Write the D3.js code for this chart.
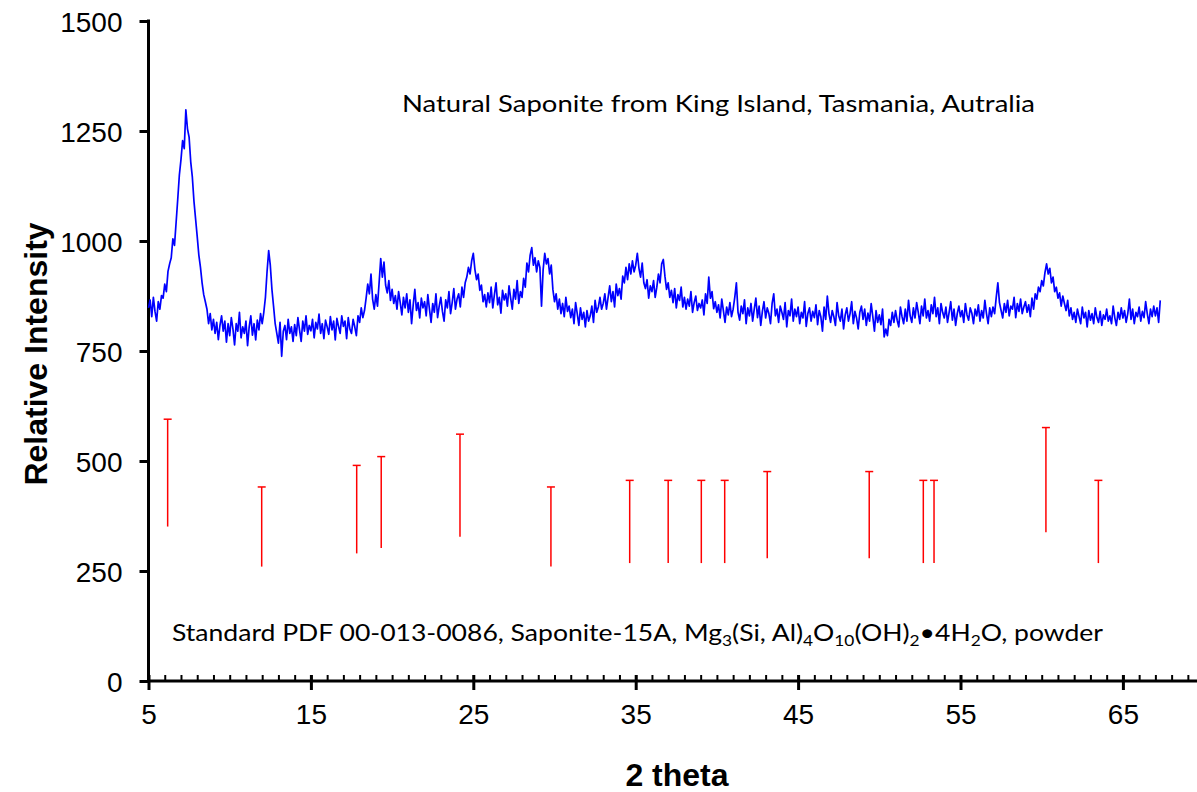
<!DOCTYPE html>
<html>
<head>
<meta charset="utf-8">
<script src="https://cdn.jsdelivr.net/npm/d3@7"></script>
<style>
  html, body { margin: 0; padding: 0; background: #fff; }
  svg { display: block; }
</style>
</head>
<body>
<svg id="chart" width="1197" height="792"></svg>
<script>
// ---------------- DATA ----------------
const scanStart = 5.0;          // 2-theta of first reading
const scanStep = 0.1;           // 2-theta step between readings
// Measured XRD intensity, one row per degree (5.0 .. 67.3)
const intensity = [
  848, 866, 828, 872, 840, 818, 862, 845, 876, 870,
  902, 885, 931, 948, 962, 1005, 990, 1042, 1095, 1150,
  1185, 1228, 1210, 1298, 1255, 1236, 1180, 1145, 1090, 1050,
  1010, 968, 940, 905, 878, 862, 845, 812, 835, 798,
  822, 790, 815, 776, 808, 830, 795, 818, 770, 812,
  785, 826, 800, 764, 812, 795, 838, 780, 805, 790,
  818, 762, 805, 830, 786, 812, 775, 820, 798, 835,
  812, 838, 872, 930, 978, 945, 890, 852, 812, 790,
  768, 815, 738, 795, 808, 776, 822, 790, 805, 772,
  810, 785, 826, 798, 772, 818, 795, 830, 788, 808,
  796, 822, 780, 815, 800, 834, 790, 812, 778, 820,
  805, 788, 828, 798, 818, 775, 824, 806, 790, 830,
  806, 818, 778, 826, 800, 790, 822, 805, 785, 830,
  815, 848, 826, 842, 870, 902, 880, 925, 868, 845,
  878, 852, 905, 960, 918, 952, 900, 882, 910, 865,
  890, 858, 876, 845, 885, 860, 832, 872, 848, 880,
  838, 866, 812, 855, 890, 842, 860, 825, 870, 848,
  862, 830, 878, 845, 815, 858, 838, 880, 826, 852,
  872, 840, 818, 866, 848, 885, 835, 860, 892, 845,
  868, 880, 850, 895, 872, 905, 918, 940, 925, 955,
  972, 935, 912, 925, 888, 900, 862, 878, 850, 882,
  860, 895, 848, 878, 905, 855, 872, 836, 888, 866,
  880, 852, 898, 870, 845, 890, 868, 910, 858, 885,
  872, 915, 895, 950, 930, 968, 985, 945, 962, 930,
  955, 940, 852, 935, 972, 948, 960, 925, 945, 890,
  862, 880, 845, 868, 835, 858, 828, 872, 840, 852,
  826, 845, 812, 860, 835, 808, 848, 822, 838, 805,
  842, 818, 830, 852, 815, 865, 838, 850, 872, 845,
  858, 880, 845, 872, 898, 862, 885, 850, 902, 876,
  892, 868, 920, 905, 940, 912, 948, 925, 955, 930,
  945, 972, 938, 918, 950, 905, 892, 912, 870, 898,
  885, 910, 872, 895, 925, 905, 948, 958, 920, 890,
  905, 872, 888, 860, 892, 848, 878, 865, 895, 850,
  872, 845, 868, 852, 885, 838, 860, 875, 842, 858,
  848, 866, 832, 880, 858, 918, 870, 885, 846, 862,
  838, 855, 825, 868, 842, 815, 850, 832, 860, 828,
  845, 872, 905, 838, 820, 852, 835, 866, 812, 848,
  830, 858, 818, 845, 870, 826, 852, 808, 840, 862,
  825, 848, 835, 812, 858, 880, 830, 845, 815, 852,
  838, 822, 860, 805, 842, 830, 868, 818, 845, 828,
  850, 812, 838, 825, 862, 806, 835, 848, 818, 840,
  826, 855, 810, 842, 828, 795, 850, 822, 875, 835,
  815, 842, 828, 808, 860, 830, 818, 845, 800, 832,
  848, 818, 835, 862, 812, 840, 825, 800, 838, 852,
  822, 845, 808, 836, 818, 858, 828, 795, 842, 815,
  832, 810, 845, 782, 800, 785, 822, 808, 838, 815,
  842, 820, 805, 850, 828, 812, 845, 818, 865, 830,
  815, 848, 825, 860, 838, 812, 852, 830, 868, 825,
  842, 818, 855, 835, 872, 828, 848, 812, 858, 838,
  825, 850, 815, 838, 862, 820, 845, 808, 835, 852,
  828, 842, 815, 858, 832, 820, 848, 836, 812, 845,
  830, 855, 818, 842, 825, 865, 835, 812, 848, 828,
  850, 835, 872, 905, 860, 842, 825, 858, 838, 865,
  830, 852, 845, 872, 826, 858, 840, 868, 835, 850,
  862, 838, 855, 828, 870, 845, 880, 868, 895, 885,
  910, 898, 928, 948, 925, 938, 905, 918, 885, 895,
  870, 882, 852, 875, 858, 842, 865, 830, 848, 822,
  838, 815, 845, 828, 812, 850, 825, 838, 805, 842,
  820, 835, 812, 848, 826, 815, 840, 808, 832, 822,
  845, 818, 830, 812, 852, 826, 808, 838, 822, 848,
  825, 842, 815, 835, 868, 822, 845, 812, 838, 828,
  850, 818, 840, 826, 862, 835, 812, 845, 828, 852,
  830, 848, 815, 865
];

// Standard PDF 00-013-0086 reference lines
const stdPositions = [6.18, 11.97, 17.82, 19.33, 24.18, 29.78, 34.63, 37.0, 39.04, 40.48, 43.1, 49.38, 52.71, 53.37, 60.26, 63.49];
const stdTop       = [595, 441, 490, 510, 561, 441, 456, 456, 456, 456, 476, 476, 456, 456, 576, 456];
const stdBottom    = [351, 260, 290, 302, 328, 260, 268, 268, 268, 268, 279, 279, 268, 268, 338, 268];

const xTicks = [5, 15, 25, 35, 45, 55, 65];
const xMinorTicks = d3.range(5, 70, 1);
const yTicks = [0, 250, 500, 750, 1000, 1250, 1500];

const xTitle = "2 theta";
const yTitle = "Relative Intensity";
const sampleNote = "Natural Saponite from King Island, Tasmania, Autralia";

// ---------------- CHART ----------------
const svg = d3.select("#chart");
const x = d3.scaleLinear().domain([5, 70]).range([148.5, 1204.1]);
const y = d3.scaleLinear().domain([0, 1500]).range([681, 21]);

const pattern = intensity.map((v, i) => ({ t: scanStart + i * scanStep, v }));

// axis lines
const axisG = svg.append("g");
axisG.append("line").attr("x1", x(5)).attr("x2", 1197).attr("y1", y(0)).attr("y2", y(0))
  .attr("stroke", "#000").attr("stroke-width", 3);
axisG.append("line").attr("x1", x(5)).attr("x2", x(5)).attr("y1", y(1500) - 1.5).attr("y2", y(0) + 1.5)
  .attr("stroke", "#000").attr("stroke-width", 3);

// y ticks + labels
const yAxis = d3.axisLeft(y).tickValues(yTicks).tickSize(9).tickPadding(17).tickFormat(d3.format("d"));
const yg = svg.append("g").attr("transform", `translate(${x(5)},0)`).call(yAxis);
yg.select(".domain").remove();
yg.selectAll(".tick line").attr("stroke", "#000").attr("stroke-width", 3);
yg.selectAll(".tick text").attr("font-family", "Liberation Sans, Arial, sans-serif")
  .attr("font-size", 28).attr("fill", "#000").attr("dy", "0.36em");

// x minor ticks (inside)
const xMinor = d3.axisTop(x).tickValues(xMinorTicks).tickSize(6).tickFormat("");
const xmg = svg.append("g").attr("transform", `translate(0,${y(0)})`).call(xMinor);
xmg.select(".domain").remove();
xmg.selectAll(".tick line").attr("stroke", "#000").attr("stroke-width", 2);

// x major ticks (crossing) + labels
const xAxis = d3.axisBottom(x).tickValues(xTicks).tickSize(9).tickPadding(14).tickFormat(d3.format("d"));
const xg = svg.append("g").attr("transform", `translate(0,${y(0)})`).call(xAxis);
xg.select(".domain").remove();
xg.selectAll(".tick line").attr("stroke", "#000").attr("stroke-width", 3).attr("y1", -6);
xg.selectAll(".tick text").attr("font-family", "Liberation Sans, Arial, sans-serif")
  .attr("font-size", 28).attr("fill", "#000");

// XRD pattern
const line = d3.line().x(d => x(d.t)).y(d => y(d.v));
svg.append("path").datum(pattern).attr("d", line)
  .attr("fill", "none").attr("stroke", "#0000ff").attr("stroke-width", 1.7)
  .attr("stroke-linejoin", "round");

// standard sticks
const sticks = svg.append("g").selectAll("g").data(stdPositions.map((p, i) => ({ p, top: stdTop[i], bot: stdBottom[i] })))
  .join("g");
sticks.append("line").attr("x1", d => x(d.p)).attr("x2", d => x(d.p))
  .attr("y1", d => y(d.top)).attr("y2", d => y(d.bot))
  .attr("stroke", "#ff0000").attr("stroke-width", 1.5);
sticks.append("line").attr("x1", d => x(d.p) - 4).attr("x2", d => x(d.p) + 4)
  .attr("y1", d => y(d.top)).attr("y2", d => y(d.top))
  .attr("stroke", "#ff0000").attr("stroke-width", 1.5);

// titles
svg.append("text").attr("x", 677).attr("y", 786).attr("text-anchor", "middle")
  .attr("font-family", "Liberation Sans, Arial, sans-serif").attr("font-weight", "bold")
  .attr("font-size", 32).text(xTitle);
svg.append("text").attr("transform", "translate(47,354) rotate(-90)").attr("text-anchor", "middle")
  .attr("font-family", "Liberation Sans, Arial, sans-serif").attr("font-weight", "bold")
  .attr("font-size", 32).text(yTitle);

// annotations
const noteFont = "Lato, 'Open Sans', sans-serif";
svg.append("text").attr("x", 402).attr("y", 112).attr("font-family", noteFont)
  .attr("font-size", 23).attr("textLength", 633).attr("lengthAdjust", "spacingAndGlyphs")
  .text(sampleNote);

const std = svg.append("text").attr("x", 172).attr("y", 641).attr("font-family", noteFont)
  .attr("font-size", 23).attr("textLength", 931).attr("lengthAdjust", "spacingAndGlyphs");
const parts = [
  ["Standard PDF 00-013-0086, Saponite-15A,  Mg", 0],
  ["3", 1], ["(Si, Al)", 0], ["4", 1], ["O", 0], ["10", 1], ["(OH)", 0], ["2", 1],
  ["\u20224H", 0], ["2", 1], ["O,  powder", 0]
];
let prevSub = false;
parts.forEach(([t, sub]) => {
  const ts = std.append("tspan").text(t);
  if (sub) { ts.attr("font-size", 15).attr("dy", prevSub ? 0 : 5); }
  else { ts.attr("dy", prevSub ? -5 : 0); }
  prevSub = !!sub;
});
</script>
</body>
</html>
